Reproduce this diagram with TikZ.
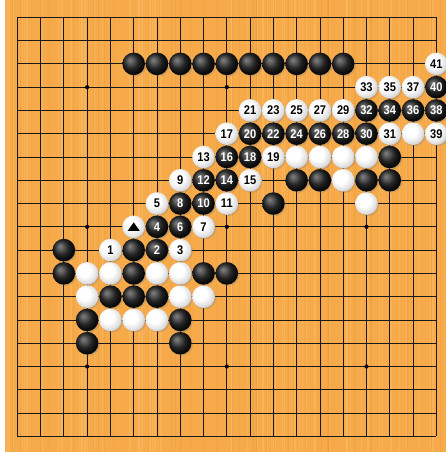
\documentclass[tikz,border=0pt]{standalone}
\usepackage{fontspec}
\usepackage{tikz}
\usetikzlibrary{shadows}
\newfontfamily\stonefont[FakeStretch=0.88]{Liberation Sans}
\definecolor{wood}{HTML}{F6AA4A}
\definecolor{woodlight}{HTML}{FCC06C}
\definecolor{wooddark}{HTML}{EA9A36}
\pgfdeclareradialshading{blackstone}{\pgfpoint{-9bp}{9bp}}{color(0bp)=(black!50!white); color(6bp)=(black!62!white); color(16bp)=(black!86); color(25bp)=(black!96); color(50bp)=(black)}
\pgfdeclareradialshading{whitestone}{\pgfpoint{-9bp}{9bp}}{color(0bp)=(white); color(14bp)=(white); color(25bp)=(black!12); color(34bp)=(black!30); color(50bp)=(black!30)}
\tikzset{
  stone/.style={circle, minimum size=22.6pt, inner sep=0pt, shade,
    font=\stonefont\bfseries\fontsize{12.6}{13}\selectfont,
    drop shadow={shadow xshift=1.3pt, shadow yshift=-1.3pt, opacity=0.3}},
  bstone/.style={stone, shading=blackstone, text=white},
  wstone/.style={stone, shading=whitestone, text=black},
  gridline/.style={line width=0.75pt, black!90},
  hoshi/.style={circle, fill=black, inner sep=0pt, minimum size=4.2pt}
}

\begin{document}
\begin{tikzpicture}[x=23.28pt, y=-23.28pt]
\useasboundingbox (-0.743,-0.743) rectangle (18.415,18.673);
\fill[white] (-0.743,-0.743) rectangle (18.415,18.673);
\fill[wood] (-0.528,-0.743) rectangle (18.415,18.673);
\pgfmathsetseed{11}
\foreach \k in {1,...,70} {
  \pgfmathsetmacro\xs{-0.45+18.8*rnd}
  \pgfmathsetmacro\ws{0.5+1.6*rnd}
  \draw[woodlight, opacity=0.45, line width=\ws pt] (\xs,-0.743) -- (\xs,18.673);
}
\foreach \k in {1,...,50} {
  \pgfmathsetmacro\xs{-0.45+18.8*rnd}
  \pgfmathsetmacro\ws{0.4+1.0*rnd}
  \draw[wooddark, opacity=0.35, line width=\ws pt] (\xs,-0.743) -- (\xs,18.673);
}
\foreach \i in {0,...,18} {
  \draw[gridline] (\i,0) -- (\i,18);
  \draw[gridline] (0,\i) -- (18,\i);
}
\foreach \c in {3,9,15}
  \foreach \r in {3,9,15}
    \node[hoshi] (h-\c-\r) at (\c,\r) {};

\foreach \c/\r in {5/2,6/2,7/2,8/2,9/2,10/2,11/2,12/2,13/2,14/2,
  16/6,12/7,13/7,15/7,16/7,11/8,2/10,5/10,2/11,5/11,8/11,9/11,
  4/12,5/12,6/12,3/13,7/13,3/14,7/14}
  \node[bstone] (b-\c-\r) at (\c,\r) {};
\foreach \c/\r in {17/5,12/6,13/6,14/6,15/6,14/7,15/8,
  3/11,4/11,6/11,7/11,3/12,7/12,8/12,4/13,5/13,6/13}
  \node[wstone] (w-\c-\r) at (\c,\r) {};

\foreach \c/\r/\n in {6/10/2,6/9/4,7/9/6,7/8/8,8/8/10,8/7/12,9/7/14,9/6/16,
  10/6/18,10/5/20,11/5/22,12/5/24,13/5/26,14/5/28,15/5/30,15/4/32,
  16/4/34,17/4/36,18/4/38,18/3/40}
  \node[bstone] (m\n) at (\c,\r) {\n};
\foreach \c/\r/\n in {4/10/1,7/10/3,6/8/5,8/9/7,7/7/9,9/8/11,8/6/13,10/7/15,
  9/5/17,11/6/19,10/4/21,11/4/23,12/4/25,13/4/27,14/4/29,16/5/31,
  15/3/33,16/3/35,17/3/37,18/5/39,18/2/41}
  \node[wstone] (m\n) at (\c,\r) {\n};

\node[wstone] (tri) at (5,9) {};
\fill[black] ([shift={(-6pt,-4pt)}]tri.center) -- ([shift={(6pt,-4pt)}]tri.center)
  -- ([shift={(0pt,4.5pt)}]tri.center) -- cycle;
\end{tikzpicture}
\end{document}
